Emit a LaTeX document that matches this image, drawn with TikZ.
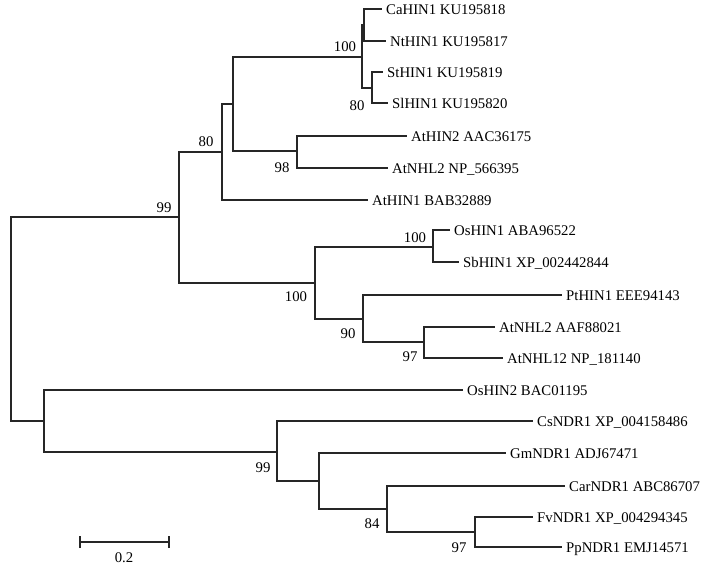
\documentclass[tikz,border=0pt]{standalone}
\usepackage{fontspec}
\setmainfont{Liberation Serif}
\tikzset{branch/.style = {line width = 1.1pt, draw = black!85}}
\tikzset{leaf/.style = {anchor = west, inner sep = 2.2pt, text height = 0.68em, text depth = 0pt,
                        font = \fontsize{8.4}{10}\selectfont}}
\tikzset{boot/.style = {inner sep = 0, text height = 0.68em, text depth = 0pt,
                        font = \fontsize{8.4}{10}\selectfont}}
\begin{document}
\begin{tikzpicture}[x = 0.02cm, y = -0.02cm]
    \useasboundingbox (0, 0) rectangle (706, 567);
    \coordinate (root) at (11, 319);
    \coordinate (hin) at (179, 217);
    \coordinate (dicot) at (222, 152);
    \coordinate (core) at (233, 104);
    \coordinate (sol) at (362, 57);
    \coordinate (cant) at (364, 25);
    \coordinate (solpot) at (372, 88);
    \coordinate (ath) at (297, 151);
    \coordinate (mix) at (315, 283);
    \coordinate (grass) at (433, 247);
    \coordinate (nhl) at (363, 319);
    \coordinate (atnhl) at (424, 342);
    \coordinate (ndr) at (44, 421);
    \coordinate (ndrcore) at (277, 452);
    \coordinate (legume) at (319, 481);
    \coordinate (ros) at (387, 509);
    \coordinate (fvpp) at (475, 532);
    \node [leaf] (ca) at (382, 9) {CaHIN1 KU195818};
    \node [leaf] (nt) at (386, 41) {NtHIN1 KU195817};
    \node [leaf] (st) at (383, 72) {StHIN1 KU195819};
    \node [leaf] (sl) at (388, 103) {SlHIN1 KU195820};
    \node [leaf] (athintwo) at (407, 136) {AtHIN2 AAC36175};
    \node [leaf] (atnhltwo) at (388, 168) {AtNHL2 NP\_566395};
    \node [leaf] (athinone) at (368, 200) {AtHIN1 BAB32889};
    \node [leaf] (os) at (450, 230) {OsHIN1 ABA96522};
    \node [leaf] (sb) at (459, 262) {SbHIN1 XP\_002442844};
    \node [leaf] (pt) at (562, 295) {PtHIN1 EEE94143};
    \node [leaf] (atnhlaaf) at (495, 327) {AtNHL2 AAF88021};
    \node [leaf] (atnhltwelve) at (503, 358) {AtNHL12 NP\_181140};
    \node [leaf] (oshintwo) at (463, 390) {OsHIN2 BAC01195};
    \node [leaf] (cs) at (533, 421) {CsNDR1 XP\_004158486};
    \node [leaf] (gm) at (506, 453) {GmNDR1 ADJ67471};
    \node [leaf] (car) at (565, 486) {CarNDR1 ABC86707};
    \node [leaf] (fv) at (533, 517) {FvNDR1 XP\_004294345};
    \node [leaf] (pp) at (562, 547) {PpNDR1 EMJ14571};
    \draw [branch] (root) |- (hin);
    \draw [branch] (root) |- (ndr);
    \draw [branch] (hin) |- (dicot);
    \draw [branch] (hin) |- (mix);
    \draw [branch] (dicot) |- (core);
    \draw [branch] (dicot) |- (athinone.west);
    \draw [branch] (core) |- (sol);
    \draw [branch] (core) |- (ath);
    \draw [branch] (sol) |- (cant);
    \draw [branch] (sol) |- (solpot);
    \draw [branch] (cant) |- (ca.west);
    \draw [branch] (cant) |- (nt.west);
    \draw [branch] (solpot) |- (st.west);
    \draw [branch] (solpot) |- (sl.west);
    \draw [branch] (ath) |- (athintwo.west);
    \draw [branch] (ath) |- (atnhltwo.west);
    \draw [branch] (mix) |- (grass);
    \draw [branch] (mix) |- (nhl);
    \draw [branch] (grass) |- (os.west);
    \draw [branch] (grass) |- (sb.west);
    \draw [branch] (nhl) |- (pt.west);
    \draw [branch] (nhl) |- (atnhl);
    \draw [branch] (atnhl) |- (atnhlaaf.west);
    \draw [branch] (atnhl) |- (atnhltwelve.west);
    \draw [branch] (ndr) |- (oshintwo.west);
    \draw [branch] (ndr) |- (ndrcore);
    \draw [branch] (ndrcore) |- (cs.west);
    \draw [branch] (ndrcore) |- (legume);
    \draw [branch] (legume) |- (gm.west);
    \draw [branch] (legume) |- (ros);
    \draw [branch] (ros) |- (car.west);
    \draw [branch] (ros) |- (fvpp);
    \draw [branch] (fvpp) |- (fv.west);
    \draw [branch] (fvpp) |- (pp.west);
    \node [boot] at (164, 207) {99};
    \node [boot] at (206, 141) {80};
    \node [boot] at (345, 46) {100};
    \node [boot] at (357, 105) {80};
    \node [boot] at (282, 167) {98};
    \node [boot] at (415, 237) {100};
    \node [boot] at (296, 296) {100};
    \node [boot] at (348, 333) {90};
    \node [boot] at (410, 356) {97};
    \node [boot] at (263, 467) {99};
    \node [boot] at (372, 523) {84};
    \node [boot] at (459, 547) {97};
    \coordinate (barl) at (80, 542);
    \coordinate (barr) at (169, 542);
    \draw [branch] (barl) -- (barr);
    \draw [branch] ([yshift = -0.12cm] barl) -- ([yshift = 0.12cm] barl);
    \draw [branch] ([yshift = -0.12cm] barr) -- ([yshift = 0.12cm] barr);
    \node [boot] (scale) at (124, 557) {0.2};
  \end{tikzpicture}
\end{document}
